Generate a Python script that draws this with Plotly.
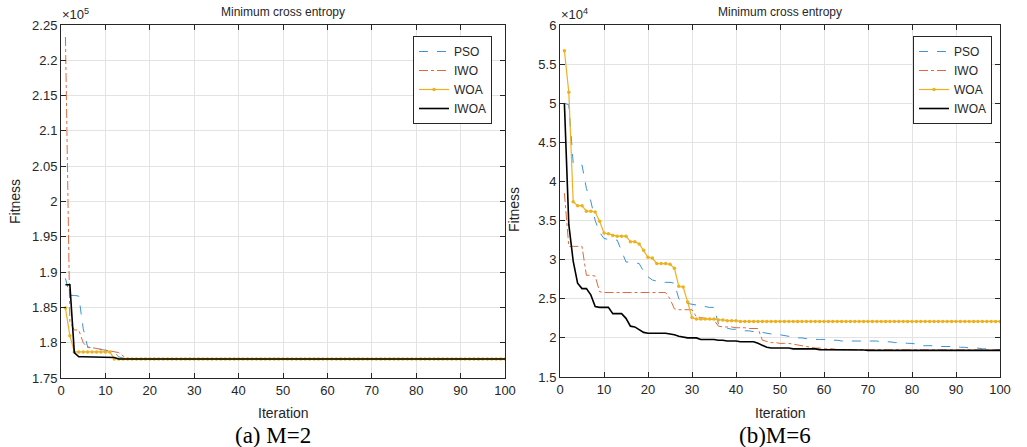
import plotly.graph_objects as go

# iterations 1..100
iters = list(range(1, 101))

# (a) M=2, fitness in units of 1e5
pso_m2 = [1.891, 1.867, 1.867, 1.866, 1.820, 1.794, 1.793, 1.792, 1.790, 1.789,
          1.788, 1.786, 1.780, 1.778] + [1.777] * 86
iwo_m2 = [2.233, 1.830, 1.818, 1.818, 1.800, 1.793, 1.793, 1.792, 1.791, 1.790,
          1.789, 1.788, 1.786, 1.781, 1.778] + [1.777] * 85
woa_m2 = [1.849, 1.810, 1.787, 1.787, 1.787, 1.787, 1.787, 1.787, 1.787, 1.787,
          1.787, 1.777] + [1.777] * 88
iwoa_m2 = [1.882, 1.882, 1.786, 1.780, 1.780, 1.780, 1.780, 1.780, 1.780, 1.780,
           1.780, 1.779, 1.777] + [1.777] * 87

# (b) M=6, fitness in units of 1e4
pso_m6 = [5.00, 4.98, 4.23, 4.22, 4.21, 3.91, 3.75, 3.50, 3.35, 3.27,
          3.26, 3.25, 3.25, 3.10, 2.97, 2.97, 2.96, 2.95, 2.85, 2.78,
          2.74, 2.72, 2.71, 2.71, 2.71, 2.70, 2.50, 2.45, 2.44, 2.43,
          2.42, 2.41, 2.40, 2.39, 2.39, 2.18, 2.14, 2.12, 2.11, 2.11,
          2.10, 2.09, 2.09, 2.08, 2.08, 2.07, 2.06, 2.05, 2.05, 2.04,
          2.03, 2.02, 2.01, 2.00, 2.00, 1.99, 1.99, 1.98, 1.98, 1.98,
          1.97, 1.97, 1.97, 1.96, 1.96, 1.96, 1.96, 1.96, 1.96, 1.96,
          1.96, 1.96, 1.95, 1.95, 1.95, 1.94, 1.94, 1.94, 1.93, 1.93,
          1.92, 1.90, 1.90, 1.90, 1.90, 1.89, 1.89, 1.89, 1.89, 1.89,
          1.88, 1.88, 1.87, 1.87, 1.87, 1.86, 1.86, 1.86, 1.85, 1.85]
iwo_m6 = [3.85, 3.17, 3.17, 3.17, 3.17, 2.80, 2.80, 2.79, 2.59, 2.58,
          2.58, 2.58, 2.58, 2.58, 2.58, 2.58, 2.58, 2.58, 2.58, 2.58,
          2.58, 2.58, 2.58, 2.58, 2.50, 2.37, 2.36, 2.36, 2.36, 2.36,
          2.27, 2.26, 2.25, 2.24, 2.23, 2.15, 2.14, 2.14, 2.14, 2.13,
          2.13, 2.13, 2.12, 2.12, 2.12, 1.97, 1.95, 1.94, 1.94, 1.93,
          1.93, 1.93, 1.92, 1.91, 1.90, 1.89, 1.88, 1.87, 1.87, 1.86,
          1.86, 1.86, 1.85, 1.85, 1.85] + [1.845] * 35
woa_m6 = [5.67, 5.14, 3.74, 3.69, 3.69, 3.62, 3.62, 3.61, 3.49, 3.34,
          3.33, 3.31, 3.30, 3.30, 3.30, 3.23, 3.23, 3.20, 3.12, 3.03,
          3.02, 2.95, 2.95, 2.95, 2.94, 2.89, 2.66, 2.65, 2.46, 2.26,
          2.24, 2.24, 2.24, 2.24, 2.24, 2.23, 2.23, 2.22, 2.22, 2.22] + [2.21] * 60
iwoa_m6 = [5.00, 3.45, 2.98, 2.70, 2.63, 2.63, 2.55, 2.40, 2.39, 2.39,
           2.39, 2.31, 2.31, 2.31, 2.25, 2.15, 2.14, 2.10, 2.07, 2.06,
           2.06, 2.06, 2.06, 2.06, 2.05, 2.04, 2.02, 2.01, 2.00, 2.00,
           2.00, 1.98, 1.98, 1.98, 1.98, 1.97, 1.97, 1.96, 1.96, 1.96,
           1.95, 1.95, 1.95, 1.95, 1.93, 1.90, 1.88, 1.87, 1.87, 1.87,
           1.87, 1.87, 1.86, 1.86, 1.86, 1.86, 1.86, 1.86, 1.85, 1.85,
           1.85, 1.85, 1.85, 1.85, 1.85, 1.845, 1.845, 1.845, 1.845] + [1.84] * 31

names = ['PSO', 'IWO', 'WOA', 'IWOA']
x_ticks = [0, 10, 20, 30, 40, 50, 60, 70, 80, 90, 100]
y_ticks_m2 = [1.75, 1.8, 1.85, 1.9, 1.95, 2, 2.05, 2.1, 2.15, 2.2, 2.25]
y_ticks_m6 = [1.5, 2, 2.5, 3, 3.5, 4, 4.5, 5, 5.5, 6]

W, H = 1027, 447
FONT = 'Liberation Sans, Arial, sans-serif'
TXT = '#262626'

styles = [
    dict(line=dict(color='#3A93D3', width=1, dash='dash'), mode='lines'),
    dict(line=dict(color='#DE6A3C', width=1, dash='dashdot'), mode='lines'),
    dict(line=dict(color='#EDB120', width=1.2), mode='lines+markers', marker=dict(size=3.5, color='#EDB120')),
    dict(line=dict(color='#000000', width=1.6), mode='lines'),
]

fig = go.Figure()
for series, st, nm in zip([pso_m2, iwo_m2, woa_m2, iwoa_m2], styles, names):
    fig.add_trace(go.Scatter(x=iters, y=series, name=nm, xaxis='x', yaxis='y', legend='legend', **st))
for series, st, nm in zip([pso_m6, iwo_m6, woa_m6, iwoa_m6], styles, names):
    fig.add_trace(go.Scatter(x=iters, y=series, name=nm, xaxis='x2', yaxis='y2', legend='legend2', **st))


def px_x(p):
    return p / W


def px_y(p):
    return 1 - p / H


ax_common = dict(showline=True, linecolor=TXT, linewidth=1, mirror='allticks', ticks='inside', ticklen=5,
                 tickcolor=TXT, showgrid=True, gridcolor='#E3E3E3', zeroline=False, automargin=False,
                 tickfont=dict(family=FONT, size=13, color=TXT))

leg_common = dict(xanchor='right', yanchor='top', bgcolor='white', bordercolor=TXT, borderwidth=1,
                  font=dict(family=FONT, size=12, color=TXT), tracegroupgap=0, itemwidth=30)

fig.update_layout(
    width=W, height=H, autosize=False,
    margin=dict(l=0, r=0, t=0, b=0, pad=0),
    paper_bgcolor='white', plot_bgcolor='white',
    font=dict(family=FONT, color=TXT),
    xaxis=dict(domain=[px_x(61), px_x(505)], range=[0, 100], tickvals=x_ticks, anchor='y', **ax_common),
    yaxis=dict(domain=[px_y(378), px_y(25)], range=[1.75, 2.25], tickvals=y_ticks_m2,
               ticktext=[str(v) for v in y_ticks_m2], anchor='x', **ax_common),
    xaxis2=dict(domain=[px_x(560), px_x(1000)], range=[0, 100], tickvals=x_ticks, anchor='y2', **ax_common),
    yaxis2=dict(domain=[px_y(377), px_y(25)], range=[1.5, 6], tickvals=y_ticks_m6,
                ticktext=[str(v) for v in y_ticks_m6], anchor='x2', **ax_common),
    legend=dict(x=px_x(492), y=px_y(36), **leg_common),
    legend2=dict(x=px_x(992), y=px_y(36), **leg_common),
    showlegend=True,
)

ann = []
for cx, left, expo, cap, capx, fy in [(283, 61, '5', '(a) M=2', 273, 202), (780, 560, '4', '(b)M=6', 775, 210)]:
    ann.append(dict(text='Minimum cross entropy', x=px_x(cx), y=px_y(12), font=dict(size=12)))
    ann.append(dict(text='×10<sup>' + expo + '</sup>', x=px_x(left - 1), y=px_y(24), xanchor='left',
                    yanchor='bottom', font=dict(size=13)))
    ann.append(dict(text='Iteration', x=px_x(cx), y=px_y(413), font=dict(size=14)))
    ann.append(dict(text=cap, x=px_x(capx), y=px_y(435),
                    font=dict(family='Liberation Serif, Times New Roman, serif', size=23, color='#000000')))
    ann.append(dict(text='Fitness', x=px_x(left - 46), y=px_y(fy), textangle=-90, font=dict(size=14)))
for a in ann:
    a.update(xref='paper', yref='paper', showarrow=False)
    a.setdefault('xanchor', 'center')
    a.setdefault('yanchor', 'middle')
fig.update_layout(annotations=ann)

fig.write_html("out.html", config={'displayModeBar': False},
               post_script="document.body.style.margin='0';document.body.style.overflow='hidden';")
